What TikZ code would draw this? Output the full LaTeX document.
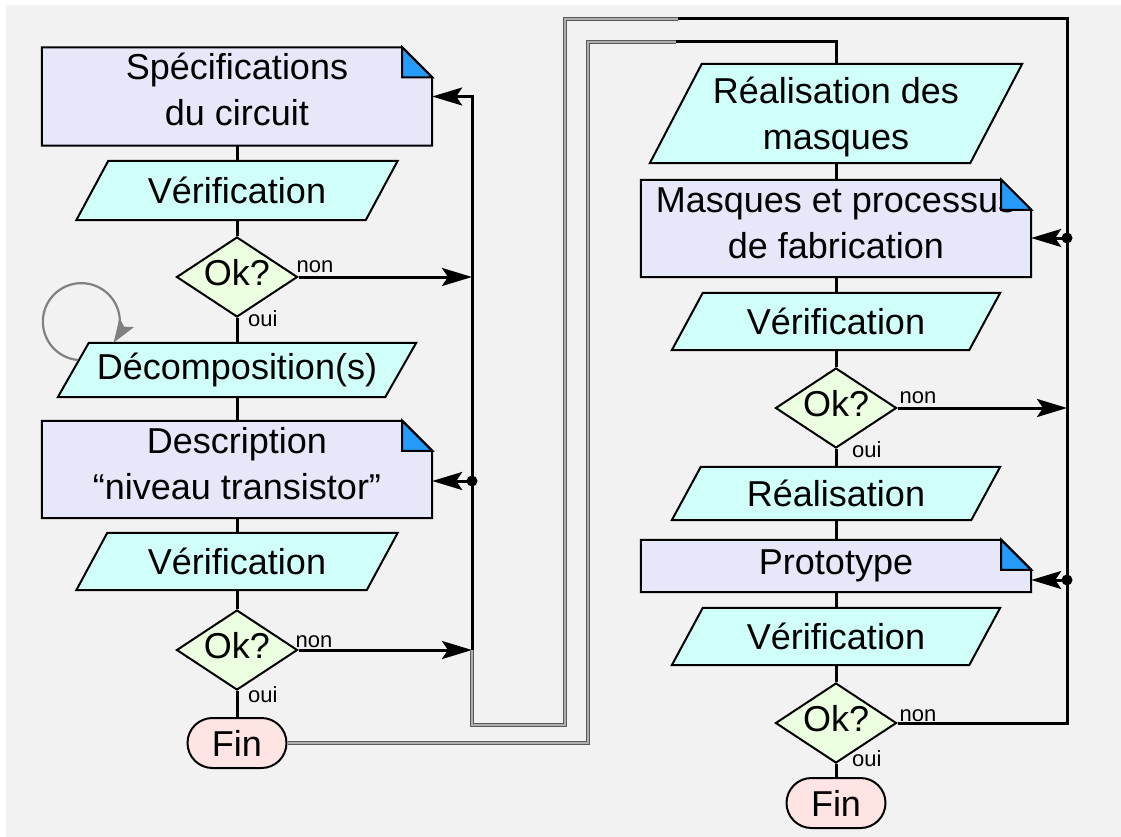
\documentclass[tikz,border=0pt]{standalone}
\usepackage{fontspec}
\setmainfont{Liberation Sans}
\usetikzlibrary{shapes.geometric,shapes.misc,arrows.meta}
\pgfdeclarelayer{back}
\pgfsetlayers{back,main}

\definecolor{canvas}{RGB}{242,242,242}
\definecolor{docfill}{RGB}{230,232,250}
\definecolor{parafill}{RGB}{208,255,250}
\definecolor{testfill}{RGB}{236,255,224}
\definecolor{endfill}{RGB}{255,228,228}
\definecolor{foldfill}{RGB}{38,155,250}
\definecolor{loopgray}{RGB}{128,128,128}
\definecolor{cableedge}{RGB}{90,90,90}
\definecolor{cablecore}{RGB}{175,175,175}

\tikzset{
  big/.style={font=\fontsize{36}{46}\selectfont, align=center, inner sep=0pt},
  frame/.style={inner sep=0pt},
  docnode/.style={frame, minimum width=390pt},
  shapeline/.style={draw=black, line width=2pt},
  docbody/.style={shapeline, fill=docfill},
  parabody/.style={shapeline, fill=parafill},
  foldcorner/.style={shapeline, fill=foldfill},
  test/.style={big, diamond, aspect=1.5, text depth=9pt, shapeline, fill=testfill,
               minimum width=121pt, minimum height=80pt},
  stop/.style={big, rounded rectangle, shapeline, fill=endfill,
               minimum width=99pt, minimum height=50pt},
  flow/.style={line width=3pt, draw=black},
  arrowflow/.style={flow, -{Stealth[length=30pt,width=18pt,inset=6pt]}},
  small/.style={font=\fontsize{22}{24}\selectfont, inner sep=0pt},
  cable/.style={draw=cableedge, double=cablecore, line width=1.4pt,
                double distance=1.4pt, line join=miter},
  junction/.style={circle, fill=black, inner sep=0pt, minimum size=11pt},
  selfloop/.style={draw=loopgray, line width=2.2pt,
                   -{Stealth[length=24pt,width=17pt,inset=5pt]}},
}

\begin{document}
\begin{tikzpicture}[x=1pt, y=-1pt]
\useasboundingbox (0,0) rectangle (1121,837);

% left column: frames
\node[docnode, minimum height=98pt] (spec) at (237,96.5) {};
\node[frame, minimum width=321pt, minimum height=59pt] (v1) at (237,190.5) {};
\node[test] (ok1) at (237,277) {Ok?};
\node[frame, minimum width=358pt, minimum height=54pt] (dec) at (237,370) {};
\node[docnode, minimum height=97pt] (desc) at (237,469.5) {};
\node[frame, minimum width=321pt, minimum height=57pt] (v2) at (237,561.5) {};
\node[test] (ok2) at (237,650) {Ok?};
\node[stop] (fin1) at (237,743) {Fin};

% right column: frames
\node[frame, minimum width=372pt, minimum height=99pt] (rdm) at (836,113.5) {};
\node[docnode, minimum height=97pt] (masks) at (836,228.5) {};
\node[frame, minimum width=328pt, minimum height=57pt] (v3) at (836,321.5) {};
\node[test] (ok3) at (836,408) {Ok?};
\node[frame, minimum width=328pt, minimum height=53pt] (real) at (836,493.5) {};
\node[docnode, minimum height=52pt] (proto) at (836,566) {};
\node[frame, minimum width=328pt, minimum height=57pt] (v4) at (836,636.5) {};
\node[test] (ok4) at (836,723) {Ok?};
\node[stop] (fin2) at (836,803) {Fin};

% shape bodies
\begin{pgfonlayer}{back}
  \fill[canvas] (6,5) rectangle (1121,837);
  \foreach \n in {spec,desc,masks,proto}
    \path[docbody] (\n.north west) -- ([xshift=-30pt]\n.north east)
      -- ([yshift=-30pt]\n.north east) -- (\n.south east) -- (\n.south west) -- cycle;
  \foreach \n/\s in {v1/32,dec/31,v2/31,rdm/52,v3/31,real/29,v4/31}
    \path[parabody] ([xshift=\s pt]\n.north west) -- (\n.north east)
      -- ([xshift=-\s pt]\n.south east) -- (\n.south west) -- cycle;
\end{pgfonlayer}

% texts of the steps
\node[big] (spec-t)  at ([yshift=7pt]spec.center)  {Spécifications\\du circuit};
\node[big] (v1-t)    at (v1.center)                {Vérification};
\node[big] (dec-t)   at (dec.center)               {Décomposition(s)};
\node[big] (desc-t)  at ([yshift=6pt]desc.center)  {Description\\“niveau transistor”};
\node[big] (v2-t)    at (v2.center)                {Vérification};
\node[big] (rdm-t)   at ([yshift=-3pt]rdm.center)  {Réalisation des\\masques};
\node[big] (masks-t) at ([yshift=5pt]masks.center) {Masques et processus\\de fabrication};
\node[big] (v3-t)    at (v3.center)                {Vérification};
\node[big] (real-t)  at (real.center)              {Réalisation};
\node[big] (proto-t) at (proto.center)             {Prototype};
\node[big] (v4-t)    at (v4.center)                {Vérification};

% folded corners of the documents
\foreach \n in {spec,desc,masks,proto}
  \path[foldcorner] ([xshift=-30pt]\n.north east) -- ([xshift=-30pt,yshift=-30pt]\n.north east)
    -- ([yshift=-30pt]\n.north east) -- cycle;

% main flow, left
\draw[flow] (spec.south) -- (v1.north);
\draw[flow] (v1.south) -- (ok1.north);
\draw[flow] (ok1.south) -- (dec.north);
\draw[flow] (dec.south) -- (desc.north);
\draw[flow] (desc.south) -- (v2.north);
\draw[flow] (v2.south) -- (ok2.north);
\draw[flow] (ok2.south) -- (fin1.north);

% main flow, right
\draw[flow] (rdm.south) -- (masks.north);
\draw[flow] (masks.south) -- (v3.north);
\draw[flow] (v3.south) -- (ok3.north);
\draw[flow] (ok3.south) -- (real.north);
\draw[flow] (real.south) -- (proto.north);
\draw[flow] (proto.south) -- (v4.north);
\draw[flow] (v4.south) -- (ok4.north);
\draw[flow] (ok4.south) -- (fin2.north);

% feedback bus, left
\coordinate (lbus) at (472,650);
\coordinate (lturn) at (472,725);
\coordinate (lrise) at (565,725);
\coordinate (ltop) at (565,19);
\coordinate (rjoin) at (678,19);
\coordinate (rtop) at (1067,19);
\draw[arrowflow] (lbus) |- (spec.east);
\draw[arrowflow] (ok1.east) -- (ok1.east -| lbus);
\draw[arrowflow] (ok2.east) -- (lbus);
\node[junction] (jdesc) at (472,481) {};
\draw[arrowflow] (jdesc.center) -- (jdesc.center -| desc.east);

% feedback bus, right
\draw[flow] (ok4.east) -| (rtop) -- (rjoin);
\draw[arrowflow] (ok3.east) -- (ok3.east -| rtop);
\node[junction] (jmasks) at (1067,238) {};
\draw[arrowflow] (jmasks.center) -- (jmasks.center -| masks.east);
\node[junction] (jproto) at (1067,580) {};
\draw[arrowflow] (jproto.center) -- (jproto.center -| proto.east);

% links between the two columns
\coordinate (ftop) at (588,42);
\coordinate (ijoin) at (676,42);
\draw[cable] (lbus) -- (lturn) -- (lrise) -- (ltop) -- (rjoin);
\draw[cable] (fin1.east) -| (ftop) -- (ijoin);
\draw[flow] (ijoin) -| (rdm.north);

% self loop on the decomposition step
\coordinate (loopstart) at (78,360);
\draw[selfloop] (loopstart) arc[start angle=95, end angle=393, radius=38.5];

% decision labels
\node[small, anchor=base west] (n1) at ([xshift=-2pt,yshift=5pt]ok1.east) {non};
\node[small, anchor=base west] (o1) at ([xshift=11pt,yshift=-8pt]ok1.south) {oui};
\node[small, anchor=base west] (n2) at ([xshift=-3pt,yshift=3pt]ok2.east) {non};
\node[small, anchor=base west] (o2) at ([xshift=11pt,yshift=-11pt]ok2.south) {oui};
\node[small, anchor=base west] (n3) at ([xshift=2pt,yshift=5pt]ok3.east) {non};
\node[small, anchor=base west] (o3) at ([xshift=16pt,yshift=-8pt]ok3.south) {oui};
\node[small, anchor=base west] (n4) at ([xshift=2pt,yshift=2pt]ok4.east) {non};
\node[small, anchor=base west] (o4) at ([xshift=16pt,yshift=-2pt]ok4.south) {oui};
\end{tikzpicture}
\end{document}
